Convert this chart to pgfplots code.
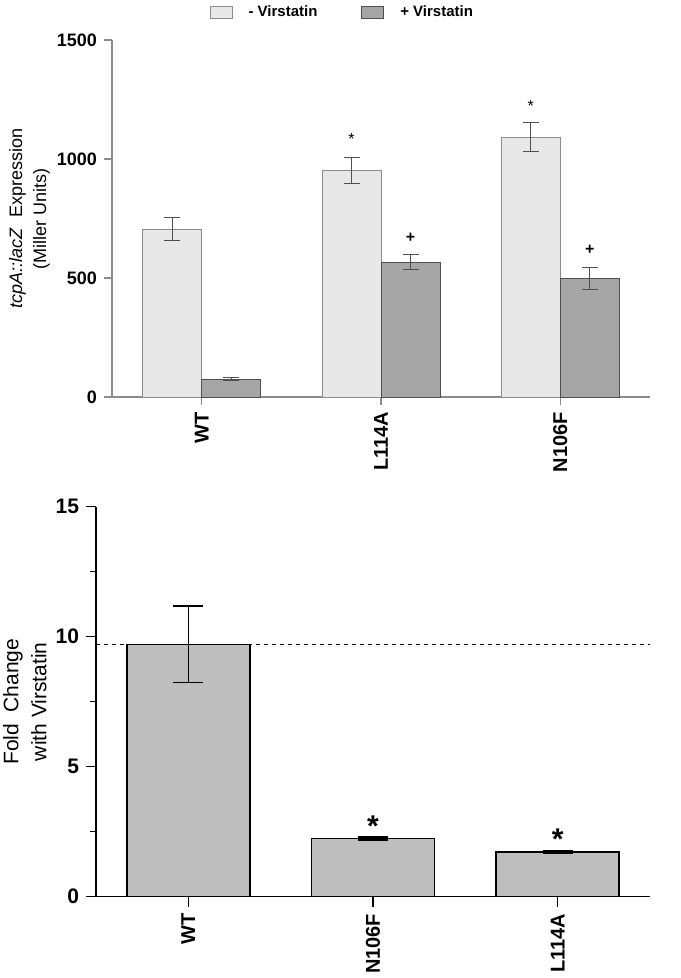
\documentclass[border=0pt]{standalone}
\usepackage{fontspec}
\setmainfont{Liberation Sans}
\usepackage{pgfplots}
\pgfplotsset{compat=1.18}

\definecolor{lightbar}{HTML}{E8E8E8}
\definecolor{darkbar}{HTML}{A6A6A6}
\definecolor{foldbar}{HTML}{BEBEBE}
\definecolor{axisgray}{HTML}{8C8C8C}
\definecolor{errgray}{HTML}{505050}

\begin{document}
\begin{tikzpicture}
\path[use as bounding box] (0,0) rectangle (340pt,-489pt);

% top panel: tcpA::lacZ expression
% bars sit at group -/+ 0.1645 (half a bar width)
\begin{axis}[
    at={(56pt,-198.5pt)}, anchor=south west,
    scale only axis, width=269pt, height=178.5pt,
    xmin=-0.5, xmax=2.5, ymin=0, ymax=1500,
    axis x line=bottom, axis y line=left,
    axis line style={axisgray, -, line width=0.6pt},
    xtick={0,1,2}, xticklabels={WT,L114A,N106F},
    ytick={0,500,1000,1500},
    tick style={axisgray, line width=0.6pt},
    tick align=outside,
    major tick length=4pt,
    /pgf/number format/assume math mode=true,
    /pgf/number format/1000 sep={},
    x tick label style={rotate=90, anchor=east, font=\bfseries\fontsize{10}{10}\selectfont},
    y tick label style={font=\bfseries\fontsize{9}{9}\selectfont},
    ylabel={\textit{tcpA::lacZ}\ \ Expression\\(Miller Units)},
    ylabel style={align=center, font=\fontsize{9}{12}\selectfont,
        at={(axis description cs:-0.115,0.5)}, anchor=south, inner sep=0pt},
    legend style={draw=none, fill=none, legend columns=2,
        at={(0.43,1.076)}, anchor=center,
        font=\bfseries\fontsize{7.5}{7.5}\selectfont,
        /tikz/every even column/.append style={column sep=20pt}},
    legend image code/.code={\draw[#1,/tikz/.cd] (0pt,-3pt) rectangle (11pt,3pt);
        \path (17pt,0pt);},
    error bars/error bar style={errgray, line width=0.5pt},
    error bars/error mark options={rotate=90, mark size=4pt, errgray, line width=0.5pt},
]
\addplot[ybar, bar width=29.5pt, bar shift=0pt, fill=lightbar, draw=axisgray,
    error bars/.cd, y dir=both, y explicit]
coordinates {(-0.1645,706) +- (0,47) (0.8355,951) +- (0,56) (1.8355,1092) +- (0,60)};
\addlegendentry{- Virstatin}
\addplot[ybar, bar width=29.5pt, bar shift=0pt, fill=darkbar, draw=errgray,
    error bars/.cd, y dir=both, y explicit]
coordinates {(0.1645,74) +- (0,6) (1.1645,567) +- (0,32) (2.1645,499) +- (0,47)};
\addlegendentry{+ Virstatin}

\node[anchor=north, inner sep=0pt, font=\fontsize{8}{8}\selectfont] at (axis cs:0.8355,1110) {*};
\node[anchor=north, inner sep=0pt, font=\fontsize{8}{8}\selectfont] at (axis cs:1.8355,1248) {*};
\node[anchor=north, inner sep=0pt, font=\bfseries\fontsize{8}{8}\selectfont] at (axis cs:1.1645,692) {+};
\node[anchor=north, inner sep=0pt, font=\bfseries\fontsize{8}{8}\selectfont] at (axis cs:2.1645,641) {+};
\end{axis}

% bottom panel: fold change
\begin{axis}[
    at={(48pt,-448.35pt)}, anchor=south west,
    scale only axis, width=277pt, height=195pt,
    xmin=-0.5, xmax=2.5, ymin=0, ymax=15,
    axis x line=bottom, axis y line=left,
    axis line style={black, -, line width=0.7pt},
    xtick={0,1,2}, xticklabels={WT,N106F,L114A},
    ytick={0,5,10,15}, minor ytick={2.5,7.5,12.5},
    tick style={black, line width=0.7pt},
    tick align=outside,
    major tick length=5pt, minor tick length=3pt,
    /pgf/number format/assume math mode=true,
    x tick label style={rotate=90, anchor=east, font=\bfseries\fontsize{10}{10}\selectfont},
    y tick label style={font=\bfseries\fontsize{10.5}{10.5}\selectfont},
    ylabel={Fold\ \ Change\\with Virstatin},
    ylabel style={align=center, font=\fontsize{10.5}{14}\selectfont,
        at={(axis description cs:-0.0885,0.5)}, anchor=south, inner sep=0pt},
    error bars/error bar style={black, line width=0.7pt},
    error bars/error mark options={rotate=90, mark size=7.5pt, black, line width=0.7pt},
]
\addplot[black, dash pattern=on 2pt off 2pt, line width=0.5pt, forget plot]
coordinates {(-0.5,9.71) (2.5,9.71)};
\addplot[ybar, bar width=61.5pt, fill=foldbar, draw=black, line width=0.7pt,
    error bars/.cd, y dir=both, y explicit]
coordinates {(0,9.71) +- (0,1.47) (1,2.24) +- (0,0.06) (2,1.72) +- (0,0.06)};

\node[anchor=north, inner sep=0pt, font=\bfseries\fontsize{15}{15}\selectfont] at (axis cs:1,3.14) {*};
\node[anchor=north, inner sep=0pt, font=\bfseries\fontsize{15}{15}\selectfont] at (axis cs:2,2.61) {*};
\end{axis}
\end{tikzpicture}
\end{document}
